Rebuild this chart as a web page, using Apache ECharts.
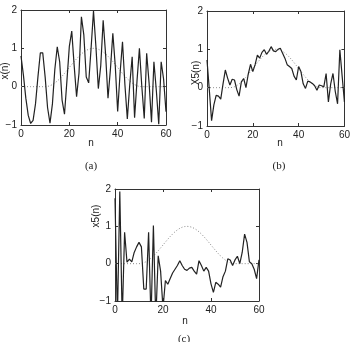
<!DOCTYPE html>
<html>
<head>
<meta charset="utf-8">
<script src="https://cdn.jsdelivr.net/npm/echarts@6/dist/echarts.min.js"></script>
<style>
  html, body { margin: 0; padding: 0; background: #fff; }
  #chart { width: 353px; height: 342px; }
</style>
</head>
<body>
<div id="chart"></div>
<script>
// sample index n = 0..60
const nIdx = [
  0, 1, 2, 3, 4, 5, 6, 7, 8, 9, 10, 11, 12, 13, 14, 15, 16, 17, 18, 19, 20,
  21, 22, 23, 24, 25, 26, 27, 28, 29, 30, 31, 32, 33, 34, 35, 36, 37, 38, 39, 40,
  41, 42, 43, 44, 45, 46, 47, 48, 49, 50, 51, 52, 53, 54, 55, 56, 57, 58, 59, 60
];

// dotted reference pulse (same in all three panels)
const pulse = [
  0, 0, 0, 0, 0, 0, 0, 0, 0, 0, 0,
  0.006, 0.024, 0.054, 0.095, 0.146, 0.206, 0.273, 0.345, 0.422, 0.5,
  0.578, 0.655, 0.727, 0.794, 0.854, 0.905, 0.946, 0.976, 0.994, 1.0,
  0.994, 0.976, 0.946, 0.905, 0.854, 0.794, 0.727, 0.655, 0.578, 0.5,
  0.422, 0.345, 0.273, 0.206, 0.146, 0.095, 0.054, 0.024, 0.006, 0,
  0, 0, 0, 0, 0, 0, 0, 0, 0, 0
];

// (a) x(n)
const xA = [
  0.80, 0.30, -0.30, -0.75, -0.96, -0.88, -0.45, 0.25, 0.88, 0.88, 0.25,
  -0.55, -0.95, -0.45, 0.45, 1.04, 0.65, -0.35, -0.72, 0.15, 1.05,
  1.45, 0.55, -0.26, 0.35, 1.82, 1.35, 0.25, 0.10, 1.00, 1.97,
  1.05, -0.05, 0.55, 1.73, 0.85, -0.30, 0.45, 1.39, 0.55, -0.65,
  0.35, 1.17, 0.05, -0.84, 0.05, 0.78, -0.81, 0.15, 1.00, 0.00,
  -0.83, 0.87, 0.10, -0.93, 0.65, -0.10, -0.98, 0.65, 0.20, -0.65
];

// (b) X5(n)
const xB = [
  0.72, -0.05, -0.86, -0.45, -0.20, -0.22, -0.30, 0.10, 0.46, 0.25, 0.07,
  0.22, 0.20, -0.05, -0.22, 0.15, 0.24, 0.00, 0.35, 0.61, 0.42,
  0.60, 0.85, 0.77, 0.92, 0.99, 0.87, 0.95, 1.07, 0.96, 0.94,
  1.00, 1.03, 0.90, 0.77, 0.60, 0.55, 0.50, 0.30, 0.20, 0.55,
  0.42, 0.10, -0.02, 0.17, 0.15, 0.11, 0.05, -0.07, 0.07, 0.05,
  0.02, 0.37, -0.37, 0.10, 0.37, -0.10, -0.42, 0.99, 0.30, -0.37
];

// (c) x5(n)
const xC = [
  1.75, -1.50, 1.93, -1.50, 0.84, 0.04, 0.12, 0.05, 0.30, 0.45, 0.57,
  0.45, -0.68, -0.68, 0.84, -1.50, 1.02, -1.50, 0.21, -0.20, -1.20,
  -0.45, -0.55, -0.40, -0.25, -0.15, -0.05, 0.08, -0.05, -0.15, -0.18,
  -0.12, -0.10, -0.20, -0.28, 0.08, -0.05, -0.20, -0.10, -0.20, -0.54,
  -0.77, -0.50, -0.55, -0.63, -0.35, -0.20, 0.13, 0.10, -0.05, 0.10,
  0.20, 0.00, 0.30, 0.79, 0.57, 0.05, 0.00, -0.15, -0.40, 0.10
];

const panels = [
  { grid: { left: 21, top: 10, width: 145, height: 115 }, data: xA },
  { grid: { left: 207, top: 11, width: 144, height: 115 }, data: xB },
  { grid: { left: 115, top: 189, width: 144, height: 112 }, data: xC },
];

const font = 'Liberation Sans, Arial, sans-serif';
const ink = '#333';

function pairs(vals) {
  return nIdx.map((n, i) => [n, vals[i]]);
}

const xAxis = [], yAxis = [], series = [];
panels.forEach((p, g) => {
  const line = { onZero: false, lineStyle: { color: ink, width: 1 } };
  const tick = { show: true, inside: true, length: 3, lineStyle: { color: ink } };
  xAxis.push({
    type: 'value', gridIndex: g, min: 0, max: 60, interval: 20, position: 'bottom',
    axisLine: line, axisTick: tick, splitLine: { show: false },
    axisLabel: { fontFamily: font, fontSize: 10, color: '#222', margin: 4 },
  });
  xAxis.push({
    type: 'value', gridIndex: g, min: 0, max: 60, interval: 20, position: 'top',
    axisLine: line, axisTick: tick, splitLine: { show: false }, axisLabel: { show: false },
  });
  yAxis.push({
    type: 'value', gridIndex: g, min: -1, max: 2, interval: 1, position: 'left',
    axisLine: line, axisTick: tick, splitLine: { show: false },
    axisLabel: {
      fontFamily: font, fontSize: 10, color: '#222', margin: 4,
      formatter: v => String(v).replace('-', '\u2212'),
    },
  });
  yAxis.push({
    type: 'value', gridIndex: g, min: -1, max: 2, interval: 1, position: 'right',
    axisLine: line, axisTick: tick, splitLine: { show: false }, axisLabel: { show: false },
  });
  series.push({
    type: 'line', xAxisIndex: g * 2, yAxisIndex: g * 2, data: pairs(pulse),
    symbol: 'none', silent: true, clip: true,
    lineStyle: { color: '#888', width: 1, type: [1, 2] },
  });
  series.push({
    type: 'line', xAxisIndex: g * 2, yAxisIndex: g * 2, data: pairs(p.data),
    symbol: 'none', silent: true, clip: true,
    lineStyle: { color: '#222', width: 1.2 },
  });
});

function txt(x, y, text, opts) {
  return Object.assign({
    type: 'text', x, y,
    style: {
      text, fontFamily: font, fontSize: 10, fill: '#222',
      textAlign: 'center', textVerticalAlign: 'middle',
    },
  }, opts || {});
}
function ylab(x, y, text) {
  return txt(x, y, text, { rotation: Math.PI / 2 });
}
function caption(x, y, text) {
  const t = txt(x, y, text);
  t.style.fontFamily = 'Liberation Serif, Times New Roman, serif';
  t.style.fontSize = 11;
  return t;
}

const chart = echarts.init(document.getElementById('chart'), null, { renderer: 'canvas' });
chart.setOption({
  animation: false,
  backgroundColor: '#fff',
  grid: panels.map(p => Object.assign({ containLabel: false }, p.grid)),
  xAxis, yAxis, series,
  graphic: [
    ylab(5, 71, 'x(n)'),
    ylab(196, 73, 'X5(n)'),
    ylab(96, 216, 'x5(n)'),
    txt(91, 143, 'n'),
    txt(280, 143, 'n'),
    txt(185, 321, 'n'),
    caption(91, 166, '(a)'),
    caption(279, 166, '(b)'),
    caption(184, 339, '(c)'),
  ],
});
</script>
</body>
</html>
